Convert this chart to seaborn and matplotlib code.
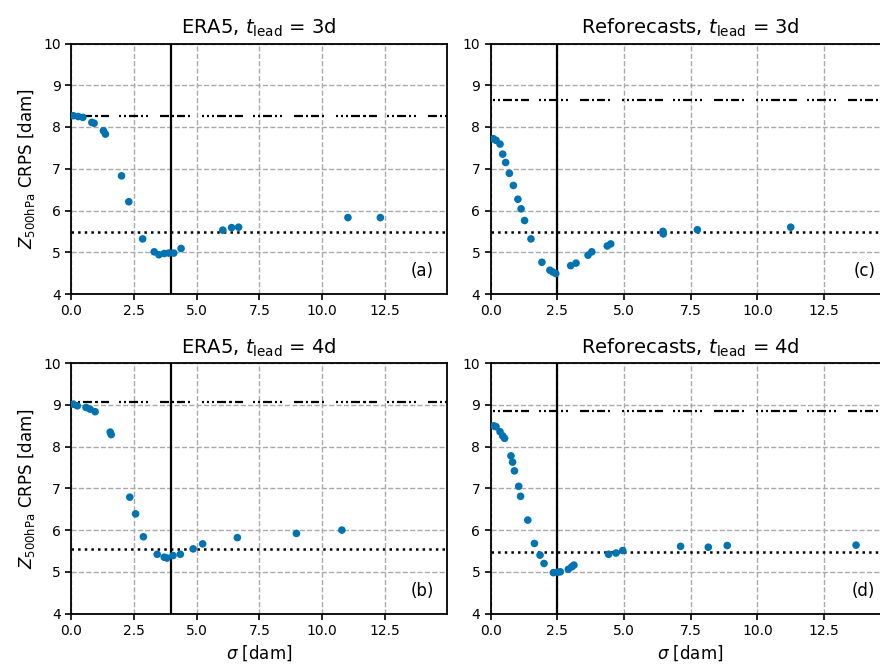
import numpy as np
import pandas as pd
import matplotlib
matplotlib.use("Agg")
import matplotlib.pyplot as plt
import seaborn as sns

# ---- data -------------------------------------------------------------
era5_3d_sigma = [0.09, 0.29, 0.47, 0.83, 0.92, 1.29, 1.37, 2.01, 2.30, 2.85,
                 3.31, 3.50, 3.71, 3.89, 4.09, 4.38, 6.04, 6.39, 6.67, 11.02, 12.31]
era5_3d_crps = [8.27, 8.25, 8.23, 8.11, 8.09, 7.91, 7.83, 6.83, 6.21, 5.32,
                5.01, 4.94, 4.97, 4.98, 4.98, 5.09, 5.53, 5.59, 5.60, 5.83, 5.83]

era5_4d_sigma = [0.09, 0.25, 0.60, 0.76, 0.96, 1.56, 1.60, 2.34, 2.57, 2.88,
                 3.43, 3.71, 3.82, 4.06, 4.35, 4.86, 5.24, 6.62, 8.97, 10.78]
era5_4d_crps = [9.02, 8.98, 8.94, 8.90, 8.84, 8.35, 8.29, 6.79, 6.39, 5.84,
                5.42, 5.35, 5.33, 5.39, 5.42, 5.55, 5.67, 5.82, 5.92, 6.00]

refc_3d_sigma = [0.10, 0.20, 0.35, 0.45, 0.56, 0.70, 0.85, 1.02, 1.14, 1.27,
                 1.51, 1.92, 2.22, 2.32, 2.44, 3.00, 3.20, 3.65, 3.79, 4.37,
                 4.50, 6.46, 6.47, 7.75, 11.25]
refc_3d_crps = [7.72, 7.68, 7.59, 7.35, 7.15, 6.89, 6.60, 6.27, 6.04, 5.76,
                5.32, 4.76, 4.57, 4.53, 4.49, 4.68, 4.74, 4.93, 5.01, 5.15,
                5.20, 5.50, 5.44, 5.54, 5.60]

refc_4d_sigma = [0.12, 0.20, 0.35, 0.45, 0.52, 0.76, 0.82, 0.89, 1.05, 1.12,
                 1.39, 1.64, 1.85, 2.00, 2.35, 2.51, 2.61, 2.91, 3.04, 3.12,
                 4.42, 4.70, 4.95, 7.12, 8.16, 8.87, 13.70]
refc_4d_crps = [8.50, 8.48, 8.36, 8.26, 8.20, 7.78, 7.63, 7.42, 7.05, 6.81,
                6.24, 5.68, 5.40, 5.20, 4.98, 4.99, 5.00, 5.06, 5.12, 5.16,
                5.42, 5.45, 5.51, 5.61, 5.59, 5.63, 5.64]

panel_letters = ["a", "b", "c", "d"]
panel_sources = ["ERA5", "ERA5", "Reforecasts", "Reforecasts"]
panel_leads = ["3d", "4d", "3d", "4d"]
optimal_sigma = [3.97, 3.97, 2.50, 2.50]
best_crps = [5.49, 5.54, 5.48, 5.48]
clim_crps = [8.27, 9.07, 8.64, 8.85]

x_ticks = [0.0, 2.5, 5.0, 7.5, 10.0, 12.5]
y_ticks = [4, 5, 6, 7, 8, 9, 10]

frames = []
for letter, sig, crps in zip(panel_letters,
                             [era5_3d_sigma, era5_4d_sigma, refc_3d_sigma, refc_4d_sigma],
                             [era5_3d_crps, era5_4d_crps, refc_3d_crps, refc_4d_crps]):
    frames.append(pd.DataFrame({"panel": letter, "sigma": sig, "crps": crps}))
df = pd.concat(frames, ignore_index=True)

# ---- style ------------------------------------------------------------
sns.set_theme(style="ticks")
plt.rcParams["font.family"] = ["DejaVu Sans"]
plt.rcParams["mathtext.fontset"] = "dejavusans"
plt.rcParams["text.color"] = "black"
plt.rcParams["axes.labelcolor"] = "black"
plt.rcParams["xtick.color"] = "black"
plt.rcParams["ytick.color"] = "black"

W, H, DPI = 880, 668, 100
fig = plt.figure(figsize=(W / DPI, H / DPI), dpi=DPI)

# axes boxes in pixels: (left, top, width, height)
boxes = {
    "a": (71.0, 43.5, 375.7, 250.5),
    "b": (71.0, 363.3, 375.7, 250.2),
    "c": (490.7, 43.5, 398.7, 250.5),
    "d": (490.7, 363.3, 398.7, 250.2),
}

PX2PT = 72.0 / DPI
# irregular dash-dot sequence for the climatology line (pixels, on/off)
clim_pattern_px = [9, 3, 2, 3, 8, 3, 2, 12, 2, 3, 2, 3, 2, 3, 9, 3,
                   3, 3, 8, 10, 2, 3, 2, 3, 9, 3, 2, 3, 2, 12]
clim_lw = 1.6
clim_dashes = [v * PX2PT / clim_lw for v in clim_pattern_px]
clim_offset = 45 * PX2PT / clim_lw

blue = "#0173b2"

for i, letter in enumerate(panel_letters):
    l, t, w, h = boxes[letter]
    ax = fig.add_axes([l / W, 1 - (t + h) / H, w / W, h / H])
    sub = df[df["panel"] == letter]

    ax.set_xlim(0, 14.95)
    ax.set_ylim(4, 10)
    ax.set_xticks(x_ticks)
    ax.set_xticklabels([f"{v:.1f}" for v in x_ticks])
    ax.set_yticks(y_ticks)
    ax.grid(True, color="#aaaaaa", linestyle="--", linewidth=1.0, zorder=0)
    ax.set_axisbelow(True)

    ax.axhline(clim_crps[i], color="black", linewidth=clim_lw,
               linestyle=(clim_offset, clim_dashes), zorder=2)
    ax.axhline(best_crps[i], color="black", linewidth=1.8, linestyle=":", zorder=2)
    ax.axvline(optimal_sigma[i], color="black", linewidth=1.6, zorder=2)

    sns.scatterplot(data=sub, x="sigma", y="crps", ax=ax, color=blue,
                    s=30, linewidth=0, edgecolor="none", zorder=3, legend=False)

    for side in ["left", "right", "top", "bottom"]:
        ax.spines[side].set_visible(True)
        ax.spines[side].set_linewidth(1.3)
        ax.spines[side].set_color("black")
    ax.tick_params(axis="both", which="major", labelsize=10, length=4,
                   width=1.2, color="black", labelcolor="black", direction="out")

    ax.set_title(rf"{panel_sources[i]}, $t_{{\mathrm{{lead}}}}$ = {panel_leads[i]}",
                 fontsize=14, pad=7)
    ax.text(0.965, 0.055, f"({letter})", transform=ax.transAxes,
            ha="right", va="bottom", fontsize=12)

    if letter in ("a", "b"):
        ax.set_ylabel(r"$Z_{\mathrm{500hPa}}$ CRPS [dam]", fontsize=12)
    else:
        ax.set_ylabel("")
    if letter in ("b", "d"):
        ax.set_xlabel(r"$\sigma$ [dam]", fontsize=12)
    else:
        ax.set_xlabel("")

fig.savefig("out.png", dpi=DPI)
